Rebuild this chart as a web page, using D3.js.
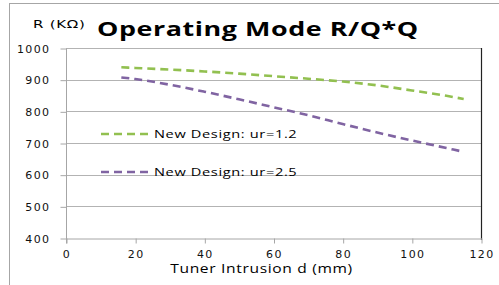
<!DOCTYPE html>
<html lang="en">
  <head>
    <meta charset='UTF-8'>
    <title>Operating Mode R/Q*Q</title>
    <script src="https://d3js.org/d3.v7.min.js"></script>
    <style>
      body { margin: 0; background: #fff; }
      svg text { fill: #000; }
      .tick text { font-family: "DejaVu Sans", sans-serif; font-size: 11px; letter-spacing: 1.4px; fill: #111; }
    </style>
  </head>
  <body>
    <svg class="main-svg" width="499" height="285"></svg>
    <script>
    // tuner intrusion d (mm)
    var dVals = [16, 20, 30, 40, 50, 60, 70, 80, 90, 100, 110, 115];
    // R (kOhm) for each design
    var rUr12 = [939, 937, 932, 926, 919, 911, 903, 894, 882, 866, 849, 839];
    var rUr25 = [907, 902, 884, 862, 838, 813, 788, 760, 733, 708, 684, 672];
    var seriesNames = ["New Design: ur=1.2", "New Design: ur=2.5"];
    var seriesColors = ["#92c050", "#8064a2"];
    var xTicks = [0, 20, 40, 60, 80, 100, 120];
    var yTicks = [400, 500, 600, 700, 800, 900, 1000];

    var svg = d3.select("svg");
    var pLeft = 66, pRight = 481, pTop = 48, pBottom = 238;

    // the source picture is stretched sideways, so texts get an x scale
    function stretchedText(x, y, sx, txt) {
      return svg.append("text")
        .attr("transform", "translate(" + x + "," + y + ") scale(" + sx + ",1)")
        .text(txt);
    }

    // outer frame
    svg.append("rect")
      .attr("x", 9.5).attr("y", 3.5)
      .attr("width", 600).attr("height", 400)
      .style("fill", "none").style("stroke", "#a6a6a6").style("stroke-width", 1);

    var xs = d3.scaleLinear().domain([0, 120]).range([pLeft, pRight]);
    var ys = d3.scaleLinear().domain([400, 1000]).range([pBottom, pTop]);

    // gridlines
    svg.append("g")
      .selectAll("line")
      .data(yTicks.slice(1))
      .enter()
      .append("line")
        .attr("x1", pLeft).attr("x2", pRight)
        .attr("y1", function(d) { return Math.round(ys(d)) + 0.5; })
        .attr("y2", function(d) { return Math.round(ys(d)) + 0.5; })
        .style("stroke", "#b3b3b3").style("stroke-width", 1);

    // right border of the plot
    svg.append("line")
      .attr("x1", pRight + 0.5).attr("x2", pRight + 0.5)
      .attr("y1", pTop).attr("y2", pBottom + 2)
      .style("stroke", "#222").style("stroke-width", 1.2);

    var yAxis = svg.append("g")
      .attr("transform", "translate(" + (pLeft + 0.5) + ",0.5)")
      .call(d3.axisLeft(ys).tickValues(yTicks).tickFormat(d3.format("d"))
        .tickSize(6).tickPadding(10).tickSizeOuter(0));
    yAxis.selectAll("line, path").style("stroke", "#a6a6a6");
    yAxis.select(".domain").attr("d", "M0," + pTop + "V" + (pBottom + 5));

    var xAxis = svg.append("g")
      .attr("transform", "translate(0.5," + (pBottom + 0.5) + ")")
      .call(d3.axisBottom(xs).tickValues(xTicks).tickFormat(d3.format("d"))
        .tickSize(5).tickPadding(7).tickSizeOuter(0));
    xAxis.selectAll("line, path").style("stroke", "#a6a6a6");

    // series
    var line = d3.line()
      .x(function(d) { return xs(d[0]); })
      .y(function(d) { return ys(d[1]); })
      .curve(d3.curveMonotoneX);

    [rUr12, rUr25].forEach(function(vals, i) {
      svg.append("path")
        .datum(dVals.map(function(d, j) { return [d, vals[j]]; }))
        .attr("d", line)
        .style("fill", "none")
        .style("stroke", seriesColors[i])
        .style("stroke-width", 2.6)
        .style("stroke-dasharray", "8,5");
    });

    // legend inside plot
    var legY = [134, 172];
    seriesNames.forEach(function(name, i) {
      svg.append("line")
        .attr("x1", 101).attr("x2", 149)
        .attr("y1", legY[i]).attr("y2", legY[i])
        .style("stroke", seriesColors[i])
        .style("stroke-width", 2.6)
        .style("stroke-dasharray", "8,5");
      stretchedText(154, legY[i] + 4, 1.27, name)
        .style("font-family", "'Open Sans', sans-serif")
        .style("font-size", "11.5px")
        .style("letter-spacing", "0.5px");
    });

    // titles
    stretchedText(33, 28, 1.5, "R  (KΩ)")
      .style("font-family", "'DejaVu Sans', sans-serif")
      .style("font-size", "10px")
      .style("letter-spacing", "0.5px");

    stretchedText(97, 36, 1.38, "Operating Mode R/Q*Q")
      .style("font-family", "'Open Sans', sans-serif")
      .style("font-size", "19.5px")
      .style("font-weight", "bold")
      .style("letter-spacing", "0.4px");

    stretchedText(261.5, 273, 1.3, "Tuner Intrusion d (mm)")
      .attr("text-anchor", "middle")
      .style("font-family", "'Open Sans', sans-serif")
      .style("font-size", "12px")
      .style("letter-spacing", "0.5px");
    </script>
  </body>
</html>
